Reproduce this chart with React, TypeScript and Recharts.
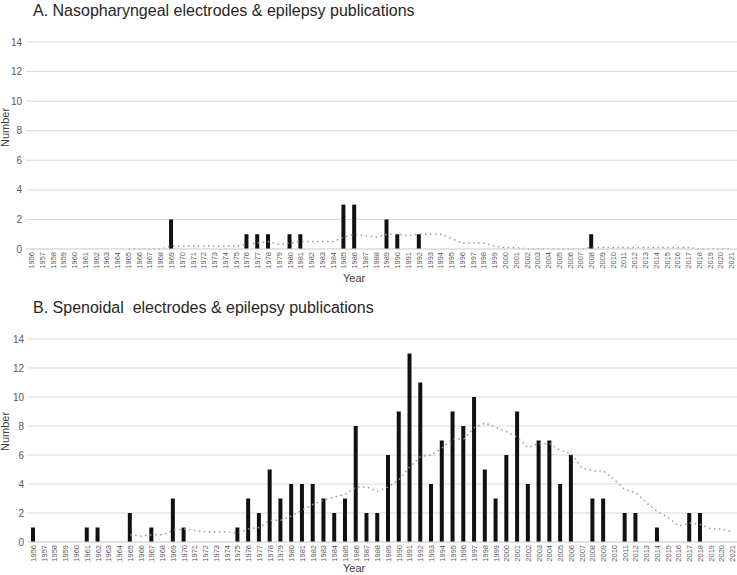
import React from "react";
import { ComposedChart, Bar, Line, XAxis, YAxis, CartesianGrid } from "recharts";

const years = [
  1956, 1957, 1958, 1959, 1960, 1961, 1962, 1963, 1964, 1965, 1966, 1967, 1968, 1969, 1970,
  1971, 1972, 1973, 1974, 1975, 1976, 1977, 1978, 1979, 1980, 1981, 1982, 1983, 1984, 1985,
  1986, 1987, 1988, 1989, 1990, 1991, 1992, 1993, 1994, 1995, 1996, 1997, 1998, 1999, 2000,
  2001, 2002, 2003, 2004, 2005, 2006, 2007, 2008, 2009, 2010, 2011, 2012, 2013, 2014, 2015,
  2016, 2017, 2018, 2019, 2020, 2021,
];

// A. nasopharyngeal counts per year
const nasoCounts = [
  0, 0, 0, 0, 0, 0, 0, 0, 0, 0, 0, 0, 0, 2, 0,
  0, 0, 0, 0, 0, 1, 1, 1, 0, 1, 1, 0, 0, 0, 3,
  3, 0, 0, 2, 1, 0, 1, 0, 0, 0, 0, 0, 0, 0, 0,
  0, 0, 0, 0, 0, 0, 0, 1, 0, 0, 0, 0, 0, 0, 0,
  0, 0, 0, 0, 0, 0,
];

// A. dotted trend line (moving average)
const nasoTrend = [
  null, null, null, null, null, null, null, null, null, 0, 0, 0, 0, 0.2, 0.2,
  0.2, 0.2, 0.2, 0.2, 0.2, 0.3, 0.4, 0.5, 0.3, 0.4, 0.5, 0.5, 0.5, 0.5, 0.8,
  1.0, 0.9, 0.8, 1.0, 1.0, 0.9, 1.0, 1.0, 1.0, 0.7, 0.4, 0.4, 0.4, 0.2, 0.1,
  0.1, 0, 0, 0, 0, 0, 0, 0.1, 0.1, 0.1, 0.1, 0.1, 0.1, 0.1, 0.1,
  0.1, 0.1, 0, 0, 0, 0,
];

// B. sphenoidal counts per year
const sphenoCounts = [
  1, 0, 0, 0, 0, 1, 1, 0, 0, 2, 0, 1, 0, 3, 1,
  0, 0, 0, 0, 1, 3, 2, 5, 3, 4, 4, 4, 3, 2, 3,
  8, 2, 2, 6, 9, 13, 11, 4, 7, 9, 8, 10, 5, 3, 6,
  9, 4, 7, 7, 4, 6, 0, 3, 3, 0, 2, 2, 0, 1, 0,
  0, 2, 2, 0, 0, 0,
];

// B. dotted trend line
const sphenoTrend = [
  null, null, null, null, null, null, null, null, null, 0.5, 0.4, 0.5, 0.5, 0.8, 0.9,
  0.8, 0.7, 0.7, 0.7, 0.6, 0.9, 1.0, 1.5, 1.5, 1.8, 2.2, 2.6, 2.9, 3.1, 3.3,
  3.8, 3.8, 3.5, 3.8, 4.3, 5.2, 5.9, 6.0, 6.5, 7.1, 7.1, 7.9, 8.2, 7.9, 7.6,
  7.2, 6.5, 6.8, 6.8, 6.3, 6.1, 5.1, 4.9, 4.9, 4.3, 3.6, 3.4, 2.7, 2.1, 1.7,
  1.1, 1.3, 1.2, 0.9, 0.9, 0.7,
];

const yTicks = [0, 2, 4, 6, 8, 10, 12, 14];

const nasoData = years.map((y, i) => ({ year: String(y), count: nasoCounts[i], trend: nasoTrend[i] }));
const sphenoData = years.map((y, i) => ({ year: String(y), count: sphenoCounts[i], trend: sphenoTrend[i] }));

const FONT = "'Liberation Sans', Arial, sans-serif";

function YearTick(props: any) {
  const { x, y, payload } = props;
  return (
    <text
      x={x + 2.6}
      y={y + 3}
      transform={`rotate(-90 ${x + 2.6} ${y + 3})`}
      textAnchor="end"
      fontSize={7.5}
      fill="#595959"
      fontFamily={FONT}
    >
      {payload.value}
    </text>
  );
}

function Panel({ data, top, height, title, titleTop, numberTop, yearTop, margin }: any) {
  return (
    <div style={{ position: "absolute", left: 0, top, width: 737, height, overflow: "hidden" }}>
      <div style={{ position: "absolute", left: 33, top: titleTop, fontSize: 16, color: "#262626", fontFamily: FONT, whiteSpace: "pre" }}>
        {title}
      </div>
      <div
        style={{
          position: "absolute",
          left: -17,
          top: numberTop,
          width: 44,
          height: 13,
          lineHeight: "13px",
          textAlign: "center",
          transform: "rotate(-90deg)",
          fontSize: 11,
          color: "#404040",
          fontFamily: FONT,
        }}
      >
        Number
      </div>
      <div style={{ position: "absolute", left: 343, top: yearTop, lineHeight: "13px", fontSize: 11, color: "#404040", fontFamily: FONT }}>
        Year
      </div>
      <ComposedChart width={737} height={height} data={data} margin={margin}>
        <CartesianGrid vertical={false} stroke="#d9d9d9" strokeWidth={1} />
        <XAxis
          dataKey="year"
          interval={0}
          tick={<YearTick />}
          tickLine={false}
          tickSize={0}
          tickMargin={0}
          axisLine={{ stroke: "#d9d9d9" }}
          height={30}
        />
        <YAxis
          domain={[0, 14]}
          ticks={yTicks}
          tickLine={false}
          axisLine={false}
          tickSize={0}
          tickMargin={4}
          width={26}
          tick={{ fontSize: 10, fill: "#595959", fontFamily: FONT }}
        />
        <Bar dataKey="count" fill="#111" barSize={4} isAnimationActive={false} />
        <Line
          dataKey="trend"
          type="linear"
          stroke="#9a9a9a"
          strokeWidth={1.5}
          strokeDasharray="1.5 3.5"
          dot={false}
          isAnimationActive={false}
          connectNulls={false}
        />
      </ComposedChart>
    </div>
  );
}

export default function App() {
  return (
    <div style={{ position: "absolute", left: 0, top: 0, width: 737, height: 575, background: "#fff" }}>
      <Panel
        data={nasoData}
        top={0}
        height={287}
        title="A. Nasopharyngeal electrodes & epilepsy publications"
        titleTop={2}
        numberTop={121}
        yearTop={272}
        margin={{ top: 42, right: 0, left: 0, bottom: 8 }}
      />
      <Panel
        data={sphenoData}
        top={290}
        height={285}
        title="B. Spenoidal  electrodes & epilepsy publications"
        titleTop={9}
        numberTop={135}
        yearTop={272}
        margin={{ top: 49, right: -1, left: 2, bottom: 3 }}
      />
    </div>
  );
}
